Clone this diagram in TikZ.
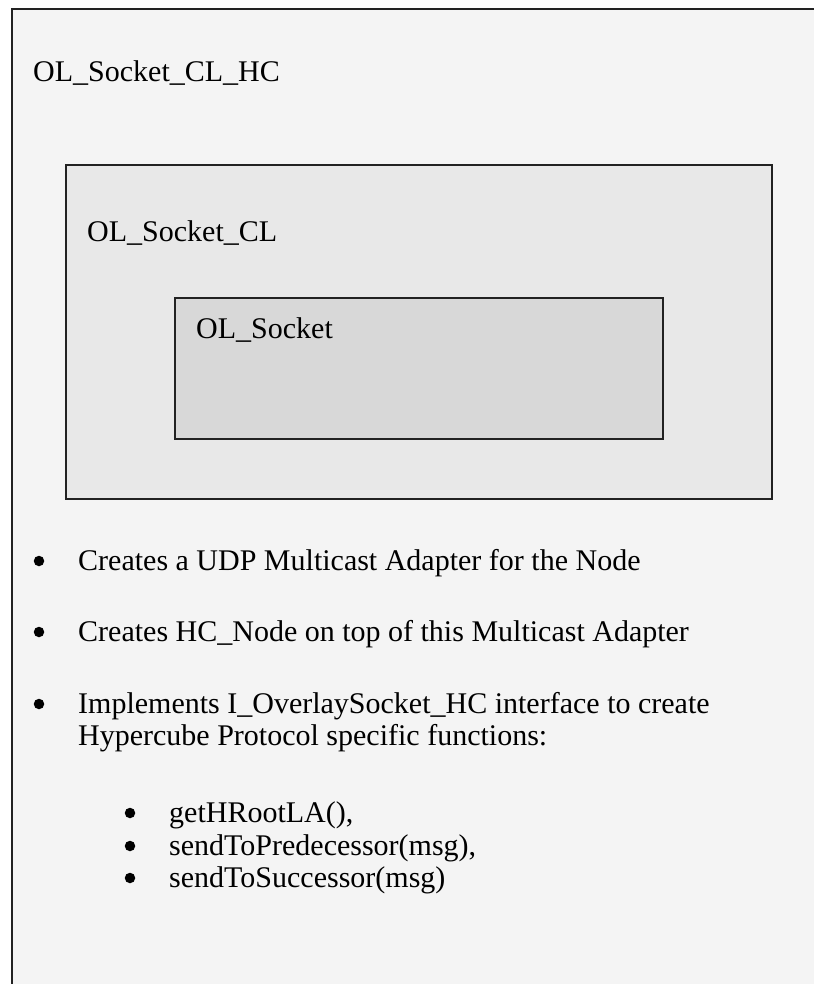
\documentclass[tikz,border=0pt]{standalone}
\usepackage{fontspec}
\setmainfont{Liberation Serif}
\definecolor{outerfill}{HTML}{F4F4F4}
\definecolor{midfill}{HTML}{E8E8E8}
\definecolor{innerfill}{HTML}{D8D8D8}
\definecolor{edge}{HTML}{222222}
\begin{document}
\begin{tikzpicture}[x=1pt,y=-1pt,
  layer/.style={draw=edge,line width=1.8pt},
  label/.style={anchor=base west,inner sep=0pt,font=\fontsize{30}{32}\selectfont},
  dot/.style={circle,fill=black,inner sep=0pt,minimum size=10.5pt}]
\useasboundingbox (0,0) rectangle (813,984);
\fill[white] (0,0) rectangle (813,984);
% nested socket layers
\draw[layer,fill=outerfill] (12,9) rectangle (830,1000);
\draw[layer,fill=midfill] (66,165) rectangle (772,499);
\draw[layer,line width=1.5pt,fill=innerfill] (175,298) rectangle (663,439);
\node[label] (hc) at (33,82) {OL\_Socket\_CL\_HC};
\node[label] (cl) at (87,241) {OL\_Socket\_CL};
\node[label] (sock) at (196,338) {OL\_Socket};
% feature list
\node[dot] (b1) at (39,561) {};
\node[label] (t1) at (78,570) {Creates a UDP Multicast Adapter for the Node};
\node[dot] (b2) at (39,632) {};
\node[label] (t2) at (78,641) {Creates HC\_Node on top of this Multicast Adapter};
\node[dot] (b3) at (39,704) {};
\node[label] (t3) at (78,713) {Implements I\_OverlaySocket\_HC interface to create};
\node[label] (t3b) at (78,745) {Hypercube Protocol specific functions:};
% protocol functions
\node[dot] (s1) at (130,813) {};
\node[label] (f1) at (169,822) {getHRootLA(),};
\node[dot] (s2) at (130,846) {};
\node[label] (f2) at (169,855) {sendToPredecessor(msg),};
\node[dot] (s3) at (130,878) {};
\node[label] (f3) at (169,887) {sendToSuccessor(msg)};
\end{tikzpicture}
\end{document}
